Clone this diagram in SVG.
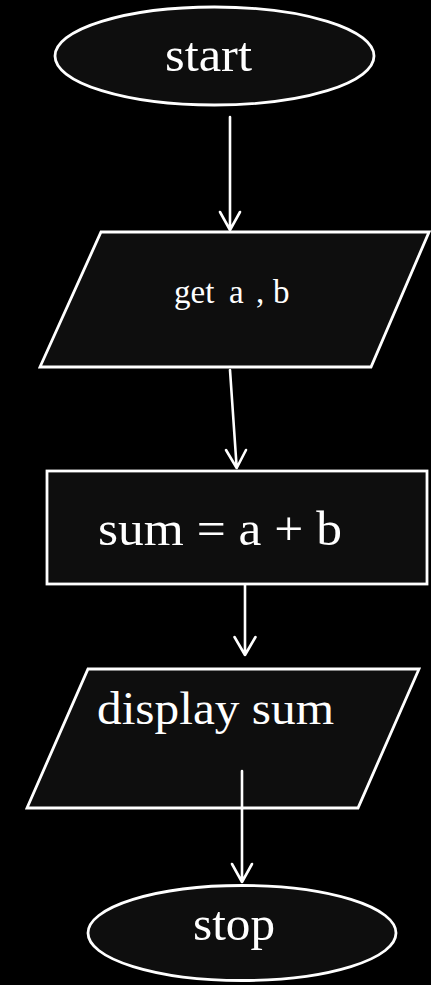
<svg xmlns="http://www.w3.org/2000/svg" width="431" height="985" viewBox="0 0 431 985">
<style>
.shape{fill:#0e0e0e;stroke:#ffffff;stroke-width:2.8}
.lbl{fill:#ffffff;font-family:"Liberation Serif","DejaVu Serif",serif}
.conn{stroke:#ffffff;stroke-width:2.6;fill:none;stroke-linecap:round;stroke-linejoin:round}
</style>
<rect width="431" height="985" fill="#000000"/>
<g id="start">
<ellipse class="shape" cx="214.5" cy="56" rx="159.5" ry="49"/>
<text class="lbl" x="165" y="71" font-size="49" textLength="87" lengthAdjust="spacingAndGlyphs">start</text>
</g>
<g id="input">
<polygon class="shape" points="101,232 429,232 371,367 40,367"/>
<text class="lbl" x="174" y="303" font-size="33"><tspan x="174">get </tspan><tspan x="229">a </tspan><tspan x="256">, </tspan><tspan x="273">b</tspan></text>
</g>
<g id="process">
<rect class="shape" x="47" y="471" width="380" height="113"/>
<text class="lbl" x="98" y="545" font-size="48" textLength="244" lengthAdjust="spacingAndGlyphs">sum = a + b</text>
</g>
<g id="output">
<polygon class="shape" points="88,669 419,669 358,808 27,808"/>
<text class="lbl" x="97" y="724" font-size="46" textLength="237" lengthAdjust="spacingAndGlyphs">display sum</text>
</g>
<g id="stop">
<ellipse class="shape" cx="242" cy="933" rx="154" ry="47.5"/>
<text class="lbl" x="193" y="940" font-size="49" textLength="82" lengthAdjust="spacingAndGlyphs">stop</text>
</g>
<g id="connectors">
<path class="conn" d="M230,117 L230,230 M220,212 L230,230 L240,212"/>
<path class="conn" d="M230,370 L236.7,468 M226,450 L236.7,468 L246,450"/>
<path class="conn" d="M245,585 L245,655 M234.5,637 L245,655 L255.5,637"/>
<path class="conn" d="M242,771 L242,882 M232,864 L242,882 L252,864"/>
</g>
</svg>
